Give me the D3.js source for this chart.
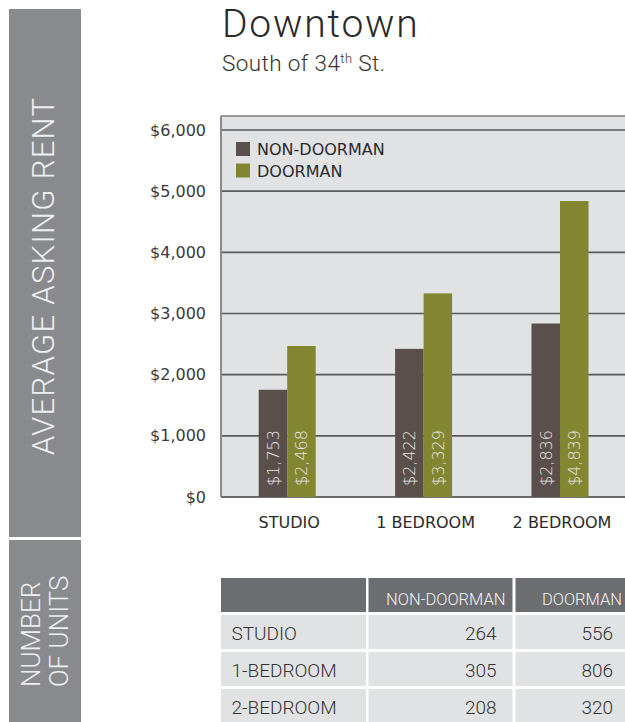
<!DOCTYPE html>
<html>
<head>
<meta charset="utf-8">
<script src="https://cdn.jsdelivr.net/npm/d3@7"></script>
<style>
  html, body { margin: 0; padding: 0; background: #ffffff; }
  svg { display: block; }
</style>
</head>
<body>
<svg id="chart" width="625" height="722"></svg>
<script>
// ---- data ----
const categories = ["STUDIO", "1 BEDROOM", "2 BEDROOM"];
const seriesNames = ["NON-DOORMAN", "DOORMAN"];
const nonDoormanRent = [1753, 2422, 2836];
const doormanRent = [2468, 3329, 4839];
const yTickValues = [0, 1000, 2000, 3000, 4000, 5000, 6000];
const tableRowLabels = ["STUDIO", "1-BEDROOM", "2-BEDROOM"];
const unitsNonDoorman = [264, 305, 208];
const unitsDoorman = [556, 806, 320];
const seriesColors = ["#5a4f4b", "#838630"];

const svg = d3.select("#chart");
const fmt = d3.format("$,");

// ---- side bar ----
svg.append("rect").attr("x", 9).attr("y", 9).attr("width", 72).attr("height", 528).attr("fill", "#898a8e");
svg.append("rect").attr("x", 9).attr("y", 540).attr("width", 72).attr("height", 182).attr("fill", "#898a8e");
svg.append("text")
  .attr("transform", "translate(53.5,276) rotate(-90)")
  .attr("text-anchor", "middle")
  .attr("font-family", "Roboto, 'Open Sans', sans-serif")
  .attr("font-weight", 300)
  .attr("font-size", 31)
  .attr("letter-spacing", 1.3)
  .attr("fill", "#eeeeee")
  .text("AVERAGE ASKING RENT");
const sideLower = svg.append("g")
  .attr("font-family", "Roboto, 'Open Sans', sans-serif")
  .attr("font-weight", 300)
  .attr("font-size", 26)
  .attr("fill", "#eeeeee");
sideLower.append("text").attr("transform", "translate(39.5,687) rotate(-90)").text("NUMBER");
sideLower.append("text").attr("transform", "translate(68,687) rotate(-90)").text("OF UNITS");

// ---- titles ----
svg.append("text")
  .attr("x", 222).attr("y", 37)
  .attr("font-family", "Roboto, 'Open Sans', sans-serif")
  .attr("font-weight", 300)
  .attr("font-size", 39)
  .attr("letter-spacing", 1.8)
  .attr("fill", "#2a2a2a")
  .text("Downtown");
const sub = svg.append("text")
  .attr("x", 222).attr("y", 71)
  .attr("font-family", "Roboto, 'Open Sans', sans-serif")
  .attr("font-weight", 300)
  .attr("font-size", 22.5)
  .attr("letter-spacing", 0.4)
  .attr("fill", "#333333");
sub.append("tspan").text("South of 34");
sub.append("tspan").attr("font-size", 13).attr("dy", -8).text("th");
sub.append("tspan").attr("dy", 8).text(" St.");

// ---- scales ----
const y = d3.scaleLinear().domain([0, 6000]).range([497, 130]);
const x = d3.scaleBand().domain(categories).range([219, 628.2]).padding(0);
const barW = 28.5;
const xInner = d3.scaleBand().domain(seriesNames)
  .range([x.bandwidth() / 2 - barW, x.bandwidth() / 2 + barW]).padding(0);

const plotLeft = 221, plotRight = 640;
const plotTop = y(6000) - 14;

// plot background
svg.append("rect")
  .attr("x", plotLeft).attr("y", plotTop)
  .attr("width", plotRight - plotLeft).attr("height", y(0) - plotTop)
  .attr("fill", "#e1e2e4");
// top border
svg.append("line").attr("x1", plotLeft).attr("x2", plotRight).attr("y1", plotTop).attr("y2", plotTop)
  .attr("stroke", "#7d7d80").attr("stroke-width", 1.6);

// gridlines
svg.append("g").selectAll("line").data(yTickValues).join("line")
  .attr("x1", plotLeft).attr("x2", plotRight)
  .attr("y1", d => y(d)).attr("y2", d => y(d))
  .attr("stroke", d => d === 0 ? "#3f3f41" : "#59595c")
  .attr("stroke-width", 1.6);

// left border
svg.append("line").attr("x1", plotLeft).attr("x2", plotLeft).attr("y1", plotTop).attr("y2", y(0))
  .attr("stroke", "#8a8a8d").attr("stroke-width", 2);

// y axis labels
const yAxis = d3.axisLeft(y).tickValues(yTickValues).tickFormat(fmt).tickSize(0).tickPadding(15);
const yg = svg.append("g").attr("transform", `translate(${plotLeft},0)`).call(yAxis);
yg.select(".domain").remove();
yg.selectAll("text")
  .attr("font-family", "'DejaVu Sans', Verdana, sans-serif")
  .attr("font-size", 16)
  .attr("fill", "#3a3a3a");

// bars
const seriesData = [nonDoormanRent, doormanRent];
const barsData = [];
categories.forEach((c, i) => {
  seriesNames.forEach((s, j) => {
    barsData.push({ cat: c, series: s, value: seriesData[j][i], color: seriesColors[j] });
  });
});
const barG = svg.append("g");
barG.selectAll("rect").data(barsData).join("rect")
  .attr("x", d => x(d.cat) + xInner(d.series))
  .attr("y", d => y(d.value))
  .attr("width", xInner.bandwidth())
  .attr("height", d => y(0) - y(d.value))
  .attr("fill", d => d.color);
barG.selectAll("text").data(barsData).join("text")
  .attr("transform", d => `translate(${x(d.cat) + xInner(d.series) + xInner.bandwidth() / 2},${y(0) - 11}) rotate(-90)`)
  .attr("dy", "0.36em")
  .attr("font-family", "'DejaVu Sans', Verdana, sans-serif")
  .attr("font-weight", 200)
  .attr("font-size", 16)
  .attr("fill", "#e8e8e8")
  .text(d => fmt(d.value));

// x axis labels
const xAxis = d3.axisBottom(x).tickSize(0).tickPadding(0);
const xg = svg.append("g").attr("transform", `translate(2,${y(0)})`).call(xAxis);
xg.select(".domain").remove();
xg.selectAll("text")
  .attr("y", 31).attr("dy", 0)
  .attr("font-family", "'DejaVu Sans', Verdana, sans-serif")
  .attr("font-size", 16)
  .attr("fill", "#2a2a2a");

// legend
const legend = svg.append("g").selectAll("g").data(seriesNames).join("g")
  .attr("transform", (d, i) => `translate(236,${142 + i * 21.5})`);
legend.append("rect").attr("width", 14).attr("height", 14).attr("fill", (d, i) => seriesColors[i]);
legend.append("text").attr("x", 21).attr("y", 13)
  .attr("font-family", "'DejaVu Sans', Verdana, sans-serif")
  .attr("font-size", 16)
  .attr("fill", "#2a2a2a")
  .text(d => d);

// ---- table ----
const colEdges = [[221, 366], [368.5, 512.5], [515.5, 629]];
const rowKeys = ["header", ...tableRowLabels];
const rowY = d3.scaleBand().domain(rowKeys).range([576.5, 724.5]).paddingInner(0.08).paddingOuter(0.04);
const tg = svg.append("g");
rowKeys.forEach((rk, ri) => {
  colEdges.forEach((ce, ci) => {
    tg.append("rect")
      .attr("x", ce[0]).attr("y", rowY(rk))
      .attr("width", ce[1] - ce[0]).attr("height", rowY.bandwidth())
      .attr("fill", rk === "header" ? "#6c6d70" : "#e1e2e4");
  });
});
const tableFont = "Roboto, 'Liberation Sans', sans-serif";
// header texts
[null, "NON-DOORMAN", "DOORMAN"].forEach((h, ci) => {
  if (!h) return;
  tg.append("text")
    .attr("x", colEdges[ci][1] - 7).attr("y", rowY("header") + 27)
    .attr("text-anchor", "end")
    .attr("font-family", tableFont).attr("font-weight", 300).attr("font-size", 16.5)
    .attr("fill", "#f2f2f2")
    .text(h);
});
tableRowLabels.forEach((r, i) => {
  const ty = rowY(r) + 25;
  tg.append("text").attr("x", 231.5).attr("y", ty)
    .attr("font-family", tableFont).attr("font-weight", 300).attr("font-size", 19)
    .attr("fill", "#333333").text(r);
  tg.append("text").attr("x", colEdges[1][1] - 16).attr("y", ty)
    .attr("text-anchor", "end")
    .attr("font-family", tableFont).attr("font-weight", 300).attr("font-size", 19)
    .attr("fill", "#333333").text(unitsNonDoorman[i]);
  tg.append("text").attr("x", colEdges[2][1] - 16).attr("y", ty)
    .attr("text-anchor", "end")
    .attr("font-family", tableFont).attr("font-weight", 300).attr("font-size", 19)
    .attr("fill", "#333333").text(unitsDoorman[i]);
});
</script>
</body>
</html>
